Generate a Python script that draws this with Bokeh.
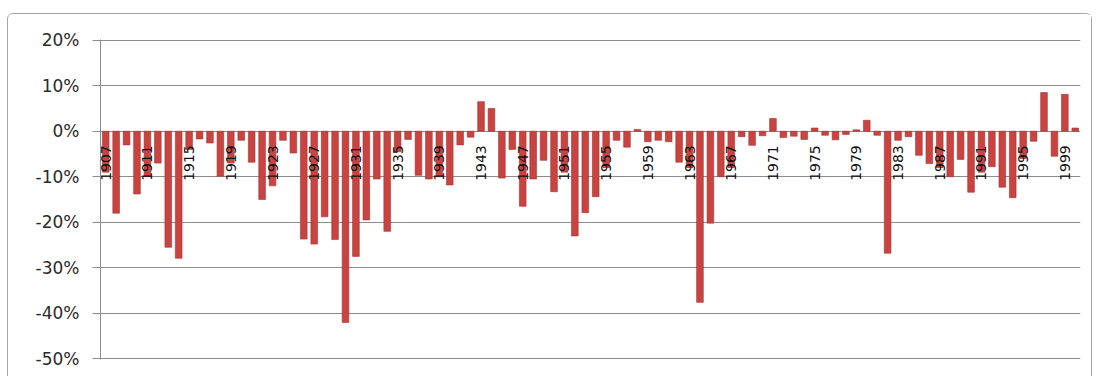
import math
from bokeh.plotting import figure
from bokeh.models import Range1d, FixedTicker, NumeralTickFormatter, ColumnDataSource
from bokeh.core.properties import value
from bokeh.embed import file_html
from bokeh.resources import INLINE

# ---- data ----
years = list(range(1907, 2001))
returns_pct = [
    -9.0, -18.0, -3.0, -13.8, -10.0, -7.0, -25.5, -27.9, -4.0, -1.7,      # 1907-1916
    -2.6, -9.9, -7.0, -2.0, -6.8, -15.0, -12.0, -2.0, -4.8, -23.7,        # 1917-1926
    -24.8, -18.8, -23.8, -42.0, -27.5, -19.5, -10.5, -22.0, -4.5, -1.8,   # 1927-1936
    -9.7, -10.5, -10.0, -11.8, -3.0, -1.3, 6.5, 5.0, -10.3, -4.0,         # 1937-1946
    -16.5, -10.5, -6.4, -13.3, -9.0, -23.0, -17.9, -14.4, -8.0, -2.0,     # 1947-1956
    -3.5, 0.4, -2.3, -2.0, -2.3, -6.8, -8.0, -37.6, -20.2, -10.0,         # 1957-1966
    -8.0, -1.2, -3.1, -1.0, 2.8, -1.4, -1.1, -1.8, 0.7, -0.9,             # 1967-1976
    -1.9, -0.7, 0.3, 2.4, -0.9, -26.8, -2.0, -1.2, -5.3, -7.1,            # 1977-1986
    -8.0, -10.0, -6.2, -13.4, -9.0, -7.8, -12.3, -14.6, -6.0, -2.2,       # 1987-1996
    8.5, -5.5, 8.1, 0.7,                                                  # 1997-2000
]
tick_years = [1907, 1911, 1915, 1919, 1923, 1927, 1931, 1935, 1939, 1943, 1947,
              1951, 1955, 1959, 1963, 1967, 1971, 1975, 1979, 1983, 1987, 1991,
              1995, 1999]
y_ticks = [-0.5, -0.4, -0.3, -0.2, -0.1, 0.0, 0.1, 0.2]

bars = ColumnDataSource(dict(year=years, ret=[v / 100.0 for v in returns_pct]))
labels = ColumnDataSource(dict(year=tick_years, zero=[0.0] * len(tick_years),
                               txt=[str(y) for y in tick_years]))

p = figure(width=1085, height=363, output_backend="svg", toolbar_location=None,
           x_range=Range1d(1906.5, 2000.5), y_range=Range1d(-0.5015, 0.2015),
           min_border_left=92, min_border_right=13, min_border_top=25,
           min_border_bottom=18)
p.margin = (13, 0, 0, 7)
p.styles = {"border": "1px solid #a6a6a6", "border-bottom": "none",
            "border-radius": "6px 6px 0 0"}
p.outline_line_color = None
p.background_fill_color = "white"
p.border_fill_color = "white"

p.xaxis.visible = False
p.xgrid.visible = False
p.ygrid.ticker = FixedTicker(ticks=y_ticks)
p.ygrid.grid_line_color = "#8c8c8c"
p.ygrid.grid_line_width = 1

ax = p.yaxis[0]
ax.ticker = FixedTicker(ticks=y_ticks)
ax.formatter = NumeralTickFormatter(format="0%")
ax.axis_line_color = "#8c8c8c"
ax.major_tick_line_color = "#8c8c8c"
ax.major_tick_out = 8
ax.major_tick_in = 0
ax.minor_tick_line_color = None
ax.major_label_text_font = "DejaVu Sans"
ax.major_label_text_font_size = "17px"
ax.major_label_text_color = "#2a2a2a"
ax.major_label_standoff = 13

p.vbar(x="year", top="ret", bottom=0, width=0.64, source=bars,
       fill_color="#C94341", line_color="#A33432", line_width=0.6)

p.text(x="year", y="zero", text="txt", source=labels, angle=math.pi / 2,
       text_align="right", text_baseline="middle", y_offset=14,
       text_font=value("DejaVu Sans"), text_font_size="14px", text_color="#111111")

open("out.html", "w").write(file_html(p, INLINE))
